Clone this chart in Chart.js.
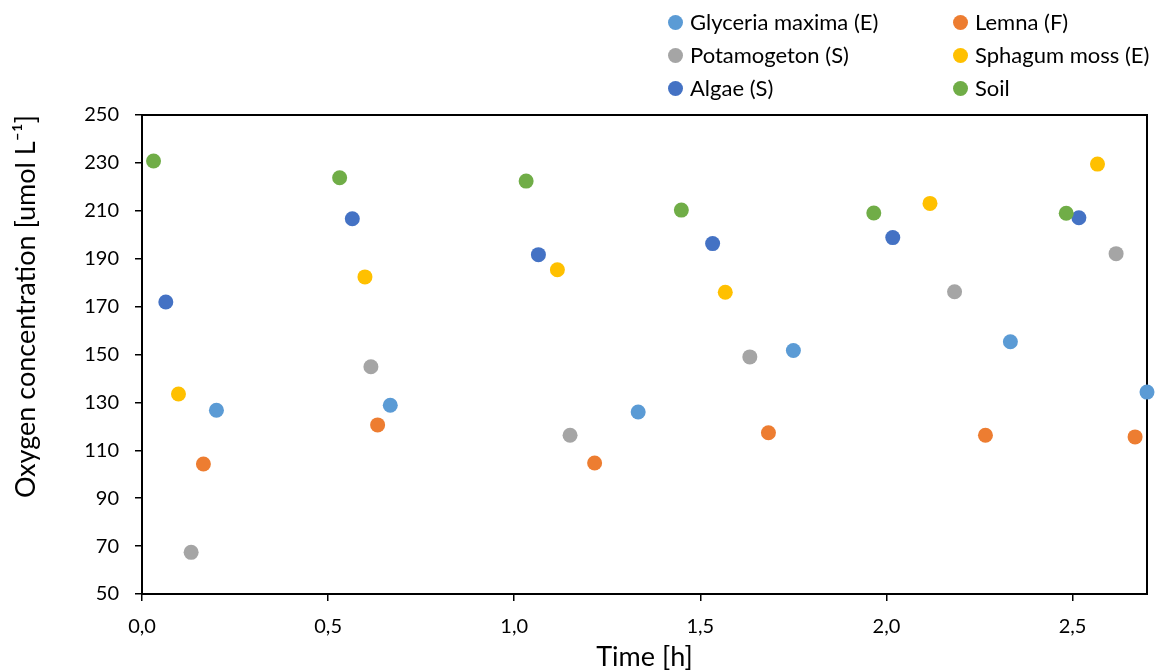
<!DOCTYPE html>
<html>
<head>
<meta charset="utf-8">
<script src="https://cdn.jsdelivr.net/npm/chart.js@4.4.0/dist/chart.umd.min.js"></script>
<style>
    body { margin: 0; background: #fff; }
    .chart-wrap { position: relative; width: 1165px; height: 670px; }
    .legend { position: absolute; left: 0; top: 0; font-family: Lato, sans-serif; font-size: 22px; color: #000; }
    .legend-item { position: absolute; white-space: nowrap; line-height: 26px; }
    .legend-dot { position: absolute; width: 15px; height: 15px; border-radius: 50%; left: -22px; top: 6px; }
</style>
</head>
<body>
<div class="chart-wrap">
    <canvas id="oxyChart" width="1165" height="670"></canvas>
    <div class="legend" id="legend"></div>
</div>
<script>
// series names and colours (legend order)
const seriesNames = ["Glyceria maxima (E)", "Lemna (F)", "Potamogeton (S)", "Sphagum moss (E)", "Algae (S)", "Soil"];
const seriesColors = ["#5B9BD5", "#ED7D31", "#A5A5A5", "#FFC000", "#4472C4", "#70AD47"];

// time [h] and oxygen values
const glyceriaX = [0.200, 0.667, 1.333, 1.750, 2.333, 2.700];
const glyceriaY = [126.7, 128.8, 126.0, 151.7, 155.3, 134.3];
const lemnaX = [0.165, 0.633, 1.216, 1.683, 2.266, 2.668];
const lemnaY = [104.3, 120.6, 104.7, 117.3, 116.3, 115.6];
const potamogetonX = [0.132, 0.615, 1.150, 1.633, 2.183, 2.617];
const potamogetonY = [67.4, 144.9, 116.3, 149.0, 176.2, 192.1];
const sphagumX = [0.098, 0.599, 1.116, 1.567, 2.117, 2.567];
const sphagumY = [133.5, 182.4, 185.4, 176.0, 213.1, 229.5];
const algaeX = [0.064, 0.565, 1.065, 1.533, 2.017, 2.517];
const algaeY = [171.9, 206.7, 191.7, 196.3, 198.8, 207.1];
const soilX = [0.031, 0.531, 1.032, 1.449, 1.966, 2.483];
const soilY = [230.8, 223.8, 222.4, 210.3, 209.1, 209.0];

const xTicks = [0, 0.5, 1, 1.5, 2, 2.5];
const yTicks = [50, 70, 90, 110, 130, 150, 170, 190, 210, 230, 250];

const seriesX = [glyceriaX, lemnaX, potamogetonX, sphagumX, algaeX, soilX];
const seriesY = [glyceriaY, lemnaY, potamogetonY, sphagumY, algaeY, soilY];

// draw order: algae above soil
const drawOrder = [5, 4, 3, 2, 1, 0];

const datasets = seriesNames.map((name, i) => ({
    label: name,
    data: seriesX[i].map((x, j) => ({ x: x, y: seriesY[i][j] })),
    backgroundColor: seriesColors[i],
    borderColor: seriesColors[i],
    borderWidth: 0,
    pointRadius: 7.5,
    clip: false,
    order: drawOrder[i]
}));

const plotBox = {
    id: 'plotBox',
    beforeDatasetsDraw(chart) {
        const a = chart.chartArea;
        const c = chart.ctx;
        c.save();
        c.strokeStyle = '#000';
        c.lineWidth = 2;
        c.strokeRect(a.left, a.top, a.right - a.left, a.bottom - a.top);
        c.restore();
    }
};

const fontFamily = 'Lato, sans-serif';

const chart = new Chart(document.getElementById('oxyChart'), {
    type: 'scatter',
    data: { datasets: datasets },
    options: {
        responsive: false,
        animation: false,
        layout: { padding: { top: 115, right: 18, left: 0, bottom: 0 } },
        plugins: {
            legend: { display: false },
            tooltip: { enabled: false }
        },
        scales: {
            x: {
                type: 'linear',
                min: 0,
                max: 2.7,
                afterFit: (s) => { s.height = 76; },
                afterBuildTicks: (s) => { s.ticks = xTicks.map(v => ({ value: v })); },
                ticks: {
                    color: '#000',
                    font: { family: fontFamily, size: 20 },
                    padding: 14,
                    callback: (v) => v.toFixed(1).replace('.', ',')
                },
                grid: { drawOnChartArea: false, drawTicks: true, tickLength: 7, color: '#000', lineWidth: 1.5 },
                border: { display: false },
                title: {
                    display: true,
                    text: 'Time [h]',
                    color: '#000',
                    font: { family: fontFamily, size: 27, lineHeight: 1.0 },
                    padding: { top: 0, bottom: -1 }
                }
            },
            y: {
                min: 50,
                max: 250,
                afterFit: (s) => { s.width = 142; },
                afterBuildTicks: (s) => { s.ticks = yTicks.map(v => ({ value: v })); },
                ticks: {
                    color: '#000',
                    font: { family: fontFamily, size: 20 },
                    padding: 16
                },
                grid: { drawOnChartArea: false, drawTicks: true, tickLength: 7, color: '#000', lineWidth: 1.5 },
                border: { display: false },
                title: {
                    display: true,
                    text: 'Oxygen concentration [umol L\u207B\u00B9]',
                    align: 'end',
                    color: '#000',
                    font: { family: fontFamily, size: 27, lineHeight: 1.0 },
                    padding: { top: 13, bottom: 0 }
                }
            }
        }
    },
    plugins: [plotBox]
});

// legend in two columns like the original
const legendBox = document.getElementById('legend');
const colLeft = [690, 975];
const rowTop = [9, 42, 75];
seriesNames.forEach((name, i) => {
    const item = document.createElement('div');
    item.className = 'legend-item';
    item.style.left = colLeft[i % 2] + 'px';
    item.style.top = rowTop[Math.floor(i / 2)] + 'px';
    item.innerHTML = `<span class="legend-dot" style="background:${seriesColors[i]}"></span>${name}`;
    legendBox.appendChild(item);
});
</script>
</body>
</html>
